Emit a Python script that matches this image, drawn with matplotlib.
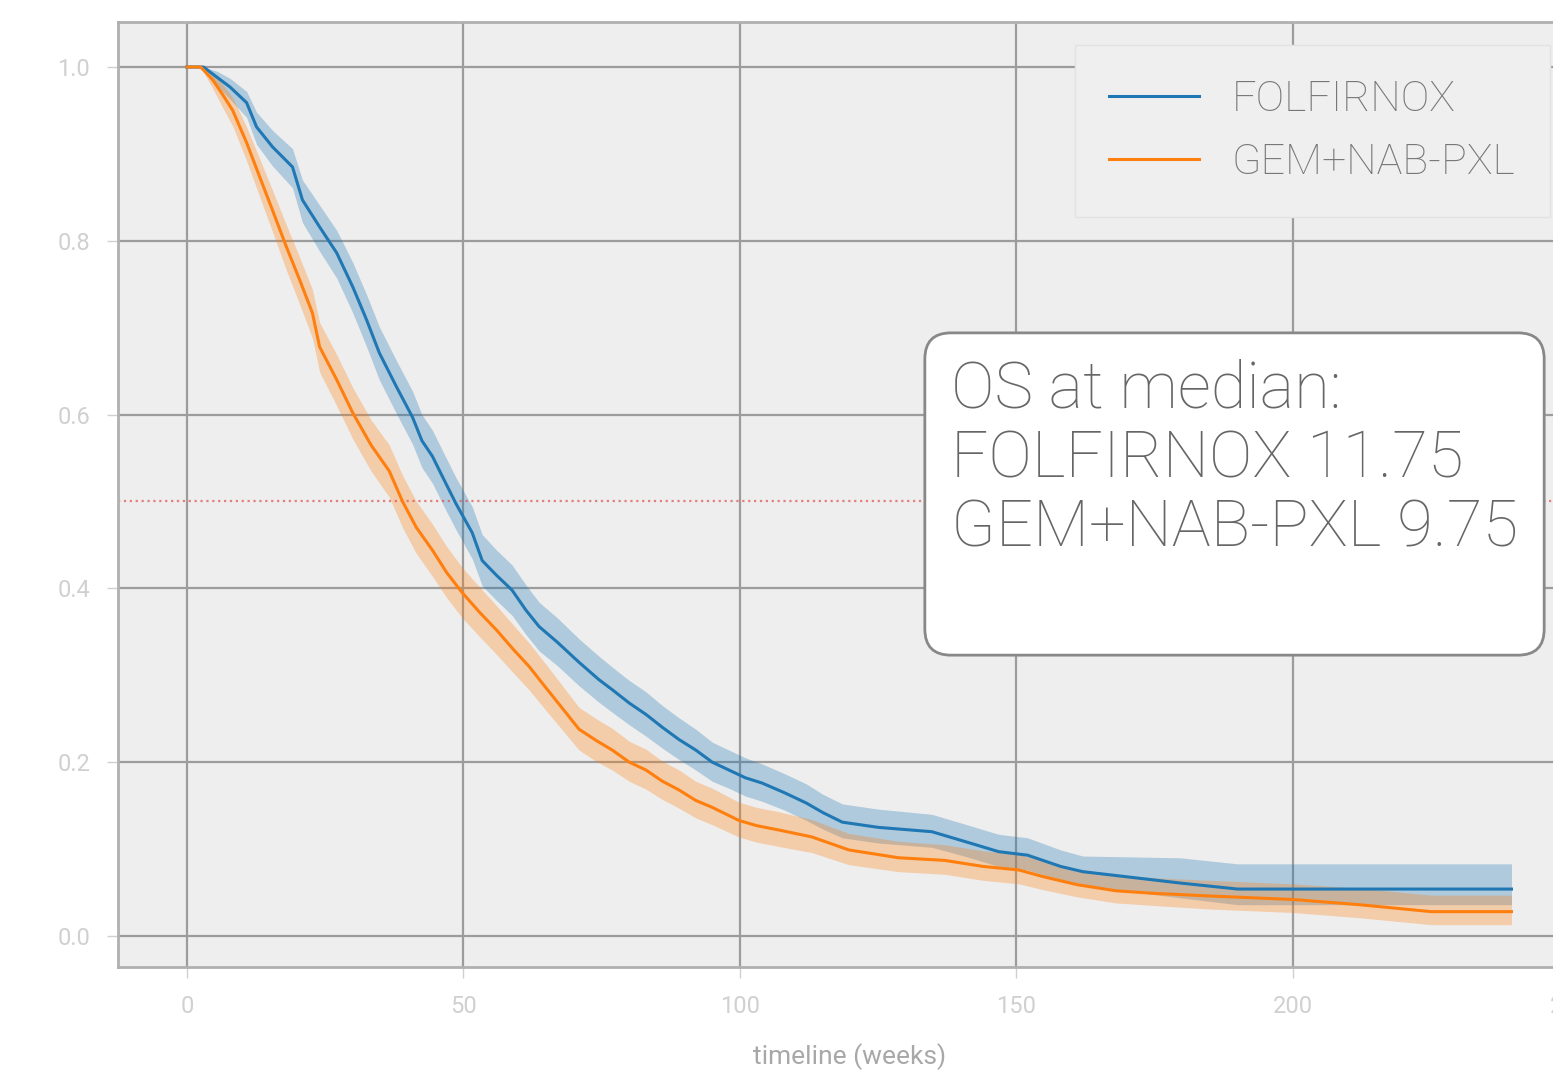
import numpy as np
import matplotlib
matplotlib.use('Agg')
import matplotlib.pyplot as plt

plt.rcParams['font.family'] = ['Roboto', 'DejaVu Sans']

# Kaplan-Meier estimates (time in weeks)
t_folf = [0, 3.0, 5.5, 7.8, 10.8, 12.6, 15.5, 19.1, 20.9, 24.0, 27.1, 30.0, 32.5, 34.8,
          37.9, 40.8, 42.5, 44.4, 46.5, 48.7, 51.6, 53.4, 56.0, 58.8, 61.3, 63.7, 67.0,
          70.9, 74.5, 77.0, 80.0, 83.0, 86.0, 89.0, 92.0, 95.0, 98.0, 101.0, 104.0, 108.0,
          112.0, 115.0, 118.5, 125.0, 134.7, 140.0, 146.8, 152.0, 158.0, 162.0, 179.5,
          190.0, 239.5]
s_folf = [1.000, 1.000, 0.988, 0.977, 0.959, 0.931, 0.908, 0.885, 0.847, 0.816, 0.786,
          0.747, 0.709, 0.671, 0.632, 0.597, 0.570, 0.552, 0.525, 0.497, 0.464, 0.432,
          0.415, 0.398, 0.375, 0.356, 0.338, 0.315, 0.295, 0.283, 0.268, 0.255, 0.240,
          0.226, 0.214, 0.200, 0.191, 0.182, 0.176, 0.165, 0.153, 0.142, 0.131, 0.125,
          0.120, 0.110, 0.097, 0.093, 0.080, 0.074, 0.061, 0.054, 0.054]
lo_folf = [1.000, 1.000, 0.978, 0.963, 0.942, 0.911, 0.886, 0.861, 0.821, 0.788, 0.757,
           0.717, 0.678, 0.640, 0.601, 0.566, 0.539, 0.521, 0.494, 0.467, 0.434, 0.403,
           0.386, 0.369, 0.347, 0.328, 0.311, 0.288, 0.269, 0.257, 0.243, 0.230, 0.216,
           0.203, 0.191, 0.178, 0.170, 0.161, 0.155, 0.145, 0.133, 0.123, 0.113, 0.107,
           0.102, 0.093, 0.080, 0.076, 0.064, 0.058, 0.044, 0.036, 0.036]
hi_folf = [1.000, 1.000, 0.995, 0.987, 0.972, 0.948, 0.927, 0.906, 0.870, 0.841, 0.812,
           0.775, 0.738, 0.701, 0.662, 0.627, 0.600, 0.582, 0.555, 0.527, 0.494, 0.462,
           0.444, 0.427, 0.404, 0.384, 0.366, 0.342, 0.322, 0.309, 0.294, 0.281, 0.265,
           0.251, 0.238, 0.223, 0.214, 0.205, 0.198, 0.187, 0.175, 0.163, 0.152, 0.146,
           0.140, 0.130, 0.117, 0.113, 0.099, 0.092, 0.090, 0.083, 0.083]

t_gem = [0, 2.5, 4.7, 6.5, 8.3, 10.8, 13.2, 15.5, 18.0, 20.4, 22.7, 24.0, 27.1, 30.0,
         33.3, 36.6, 39.0, 41.5, 44.4, 47.0, 49.8, 53.0, 56.0, 59.0, 61.9, 65.0, 67.9,
         70.9, 74.0, 76.9, 80.0, 83.0, 86.0, 89.0, 92.0, 95.0, 99.8, 103.0, 107.0, 113.0,
         119.7, 128.7, 137.0, 144.0, 150.4, 155.0, 161.0, 168.0, 175.0, 185.0, 200.0,
         212.0, 225.0, 239.5]
s_gem = [1.000, 1.000, 0.985, 0.968, 0.950, 0.913, 0.873, 0.835, 0.793, 0.755, 0.717,
         0.678, 0.640, 0.602, 0.565, 0.535, 0.500, 0.470, 0.444, 0.418, 0.395, 0.372,
         0.352, 0.330, 0.310, 0.285, 0.262, 0.238, 0.225, 0.214, 0.200, 0.191, 0.178,
         0.168, 0.156, 0.148, 0.133, 0.127, 0.122, 0.114, 0.099, 0.090, 0.087, 0.080,
         0.076, 0.068, 0.059, 0.052, 0.049, 0.046, 0.042, 0.036, 0.028, 0.028]
lo_gem = [1.000, 1.000, 0.975, 0.953, 0.932, 0.892, 0.850, 0.810, 0.766, 0.727, 0.688,
          0.649, 0.610, 0.572, 0.535, 0.505, 0.470, 0.440, 0.414, 0.389, 0.366, 0.344,
          0.324, 0.303, 0.283, 0.259, 0.237, 0.214, 0.201, 0.191, 0.178, 0.169, 0.157,
          0.147, 0.136, 0.128, 0.114, 0.108, 0.103, 0.096, 0.082, 0.074, 0.071, 0.064,
          0.060, 0.053, 0.045, 0.038, 0.035, 0.031, 0.027, 0.021, 0.013, 0.013]
hi_gem = [1.000, 1.000, 0.993, 0.980, 0.965, 0.931, 0.894, 0.858, 0.818, 0.781, 0.744,
          0.706, 0.669, 0.631, 0.594, 0.565, 0.530, 0.500, 0.474, 0.448, 0.424, 0.401,
          0.380, 0.358, 0.337, 0.312, 0.288, 0.263, 0.250, 0.239, 0.224, 0.215, 0.201,
          0.191, 0.178, 0.170, 0.154, 0.148, 0.143, 0.134, 0.118, 0.109, 0.105, 0.098,
          0.094, 0.086, 0.077, 0.070, 0.067, 0.064, 0.060, 0.055, 0.047, 0.047]

median_folf = 11.75
median_gem = 9.75

blue = '#1f77b4'
orange = '#ff7f0e'

fig = plt.figure(figsize=(15.53, 10.72), dpi=100)
# axes runs past the right edge, the reference is cropped there
ax = fig.add_axes([118 / 1553, 105 / 1072, 1462.6 / 1553, 945 / 1072])
ax.set_facecolor('#eeeeee')

ax.fill_between(t_folf, lo_folf, hi_folf, color=blue, alpha=0.3, lw=0)
ax.plot(t_folf, s_folf, color=blue, lw=2.2, label='FOLFIRNOX')
ax.fill_between(t_gem, lo_gem, hi_gem, color=orange, alpha=0.3, lw=0)
ax.plot(t_gem, s_gem, color=orange, lw=2.2, label='GEM+NAB-PXL')

ax.axhline(0.5, ls=':', color='#e05050', lw=1.6, alpha=0.7, zorder=1)

ax.set_xlim(-12.45, 252)
ax.set_ylim(-0.0357, 1.0518)
ax.set_xticks([0, 50, 100, 150, 200, 250])
ax.set_yticks([0.0, 0.2, 0.4, 0.6, 0.8, 1.0])
ax.set_yticklabels(['0.0', '0.2', '0.4', '0.6', '0.8', '1.0'])
ax.grid(True, color='#9c9c9c', lw=1.6)
ax.set_axisbelow(True)
for sp in ax.spines.values():
    sp.set_color('#b0b0b0')
    sp.set_linewidth(2)
ax.tick_params(colors='#d0d0d0', labelsize=17, length=8, width=1, pad=12)
ax.set_xlabel('timeline (weeks)', fontsize=19, color='#a8a8a8', labelpad=18)

ax.legend(loc='upper left', bbox_to_anchor=(0.654, 0.9757), borderaxespad=0,
          facecolor='#efefef', edgecolor='#e2e2e2', framealpha=1,
          fancybox=False, handlelength=2.1, handletextpad=0.75, borderpad=0.8,
          labelcolor='#777777', prop={'weight': 'light', 'size': 31})

ax.text(0.5695, 0.6434,
        'OS at median:\nFOLFIRNOX %.2f\nGEM+NAB-PXL %.2f\n' % (median_folf, median_gem),
        transform=ax.transAxes, ha='left', va='top', fontsize=47, color='#666666',
        fontweight='light', linespacing=1.15,
        bbox=dict(boxstyle='round,pad=0.4', fc='white', ec='#888888', lw=2))

fig.savefig('out.png', dpi=100)
